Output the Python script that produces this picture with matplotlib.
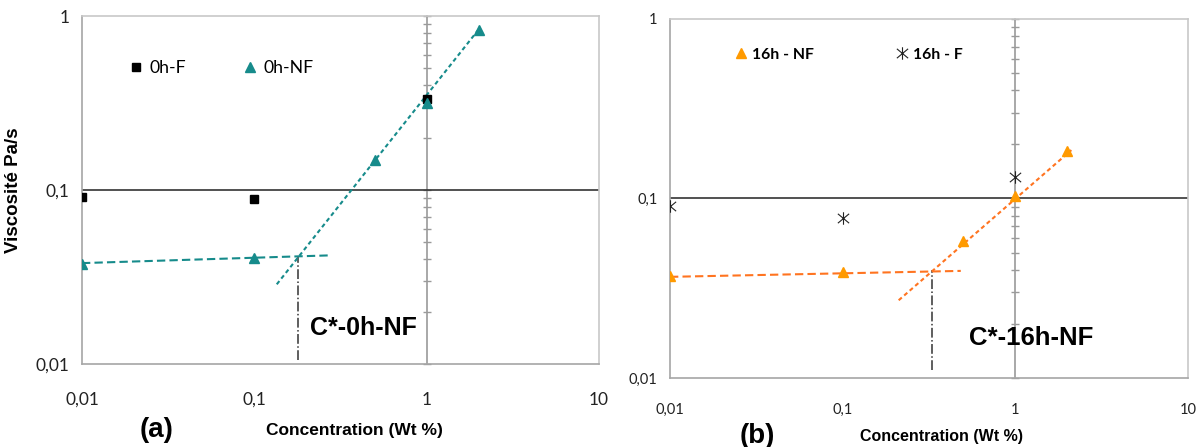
"""
Viscosity vs concentration, two panels (0h and 16h), log-log with C* lines.
"""

import numpy as np
import matplotlib
matplotlib.use("Agg")
import matplotlib.pyplot as plt
from matplotlib.path import Path
from matplotlib.ticker import FixedLocator, NullFormatter, FuncFormatter

# ---- data ----
conc_f = [0.01, 0.1, 1]
conc_nf = [0.01, 0.1, 0.5, 1, 2]

visc_0h_f = [0.0912, 0.0892, 0.332]
visc_0h_nf = [0.0377, 0.0404, 0.149, 0.318, 0.828]

visc_16h_nf = [0.0369, 0.0387, 0.0581, 0.103, 0.185]
visc_16h_f = [0.0907, 0.078, 0.132]

# trend lines (end points) and C* markers
fit_0h_low_x, fit_0h_low_y = [0.01, 0.274], [0.0380, 0.0421]
fit_0h_high_x, fit_0h_high_y = [0.135, 2.0], [0.0287, 0.835]
cstar_0h_x, cstar_0h_y = [0.18, 0.18], [0.0106, 0.0417]

fit_16h_low_x, fit_16h_low_y = [0.01, 0.483], [0.0366, 0.0395]
fit_16h_high_x, fit_16h_high_y = [0.211, 2.11], [0.0271, 0.186]
cstar_16h_x, cstar_16h_y = [0.331, 0.331], [0.0111, 0.0398]

TEAL = "#168b8b"
ORANGE_M = "#ff9a00"
ORANGE_L = "#ff7420"
GRID_V = "#9a9a9a"
SPINE = "#a6a6a6"

TICK_FONT = "Lato"
BOLD_FONT = "Liberation Sans"

# asterisk-like marker (x with a vertical bar)
star_marker = Path(
    [(0, -1), (0, 1), (-0.9, -0.75), (0.9, 0.75), (-0.9, 0.75), (0.9, -0.75)],
    [Path.MOVETO, Path.LINETO, Path.MOVETO, Path.LINETO, Path.MOVETO, Path.LINETO],
)


def comma(v, pos):
    s = f"{v:g}"
    return s.replace(".", ",")


def style_axes(ax, tick_size, xpad, ypad):
    ax.set_xscale("log")
    ax.set_yscale("log")
    ax.set_xlim(0.01, 10)
    ax.set_ylim(0.01, 1)
    ax.xaxis.set_major_locator(FixedLocator([0.01, 0.1, 1, 10]))
    ax.yaxis.set_major_locator(FixedLocator([0.01, 0.1, 1]))
    ax.xaxis.set_major_formatter(FuncFormatter(comma))
    ax.yaxis.set_major_formatter(FuncFormatter(comma))
    ax.xaxis.set_minor_formatter(NullFormatter())
    ax.yaxis.set_minor_formatter(NullFormatter())
    ax.tick_params(which="both", length=0)
    ax.tick_params(axis="x", pad=xpad, labelsize=tick_size)
    ax.tick_params(axis="y", pad=ypad, labelsize=tick_size)
    for lab in ax.get_xticklabels() + ax.get_yticklabels():
        lab.set_fontfamily(TICK_FONT)
        lab.set_color("#222222")
    for side in ["left", "bottom", "right", "top"]:
        ax.spines[side].set_color(SPINE)
        ax.spines[side].set_linewidth(1.2)
    ax.spines["top"].set_color("#c8c8c8")
    ax.spines["right"].set_color("#c8c8c8")

    # horizontal axis crossing at 0.1
    ax.axhline(0.1, color="#333333", lw=1.2, zorder=1)
    # vertical axis crossing at 1, with log minor ticks
    sec = ax.secondary_yaxis(2 / 3)
    sec.spines["right"].set_color(GRID_V)
    sec.spines["right"].set_linewidth(1.2)
    sec.yaxis.set_major_locator(FixedLocator([0.01, 0.1, 1]))
    minors = [m * d for d in [0.01, 0.1] for m in range(2, 10)]
    sec.yaxis.set_minor_locator(FixedLocator(minors))
    sec.yaxis.set_major_formatter(NullFormatter())
    sec.yaxis.set_minor_formatter(NullFormatter())
    sec.tick_params(which="both", direction="inout", length=6, width=1, color=GRID_V)


fig = plt.figure(figsize=(12.02, 4.47), dpi=100)

# ---------------- panel (a) ----------------
ax1 = fig.add_axes([0.0682, 0.1857, 0.4301, 0.7785])
style_axes(ax1, 12.5, 20, 9)

ax1.plot(conc_f, visc_0h_f, ls="none", marker="s", ms=5.5, color="black", label="0h-F", zorder=4)
ax1.plot(conc_nf, visc_0h_nf, ls="none", marker="^", ms=7, color=TEAL, label="0h-NF", zorder=4)
ax1.plot(fit_0h_low_x, fit_0h_low_y, color=TEAL, lw=1.5, dashes=(4, 2), zorder=3)
ax1.plot(fit_0h_high_x, fit_0h_high_y, color=TEAL, lw=1.5, dashes=(2, 1.5), zorder=3)
ax1.plot(cstar_0h_x, cstar_0h_y, color="#333333", lw=1.1, ls="-.", zorder=2)
ax1.text(0.21, 0.0162, "C*-0h-NF", fontsize=18, fontweight="bold", family=BOLD_FONT,
         va="center", ha="left")

leg1 = ax1.legend(loc="center left", bbox_to_anchor=(0.09, 0.85), ncol=2, frameon=False,
                  handlelength=0.8, handletextpad=0.4, columnspacing=3.2, borderpad=0,
                  borderaxespad=0, prop={"family": TICK_FONT, "size": 12.7})

ax1.set_ylabel("Viscosité Pa/s", fontsize=13.5, fontweight="bold", family=BOLD_FONT, labelpad=10)
fig.text(157 / 1202, 1 - 430 / 447, "(a)", fontsize=20, fontweight="bold", family=BOLD_FONT,
         ha="center", va="center")
fig.text(354 / 1202, 1 - 430 / 447, "Concentration (Wt %)", fontsize=12.5, fontweight="bold",
         family=BOLD_FONT, ha="center", va="center")

# ---------------- panel (b) ----------------
ax2 = fig.add_axes([0.5574, 0.1544, 0.4310, 0.8031])
style_axes(ax2, 10.5, 18, 9)

ax2.plot(conc_nf, visc_16h_nf, ls="none", marker="^", ms=7, color=ORANGE_M, label="16h - NF", zorder=4)
ax2.plot(conc_f, visc_16h_f, ls="none", marker=star_marker, ms=9, mew=0.8, color="#222222",
         mfc="none", label="16h - F", zorder=4)
ax2.plot(fit_16h_low_x, fit_16h_low_y, color=ORANGE_L, lw=1.5, dashes=(4, 2), zorder=3)
ax2.plot(fit_16h_high_x, fit_16h_high_y, color=ORANGE_L, lw=1.5, dashes=(2, 1.5), zorder=3)
ax2.plot(cstar_16h_x, cstar_16h_y, color="#333333", lw=1.1, ls="-.", zorder=2)
ax2.text(0.536, 0.0168, "C*-16h-NF", fontsize=18.5, fontweight="bold", family=BOLD_FONT,
         va="center", ha="left")

leg2 = ax2.legend(loc="center left", bbox_to_anchor=(0.125, 0.90), ncol=2, frameon=False,
                  handlelength=0.8, handletextpad=0.3, columnspacing=5.2, borderpad=0,
                  borderaxespad=0, prop={"family": TICK_FONT, "size": 11.3, "weight": "bold"})

fig.text(757 / 1202, 1 - 436 / 447, "(b)", fontsize=20, fontweight="bold", family=BOLD_FONT,
         ha="center", va="center")
fig.text(942 / 1202, 1 - 437 / 447, "Concentration (Wt %)", fontsize=11.5, fontweight="bold",
         family=BOLD_FONT, ha="center", va="center")

fig.savefig("out.png", dpi=100)
